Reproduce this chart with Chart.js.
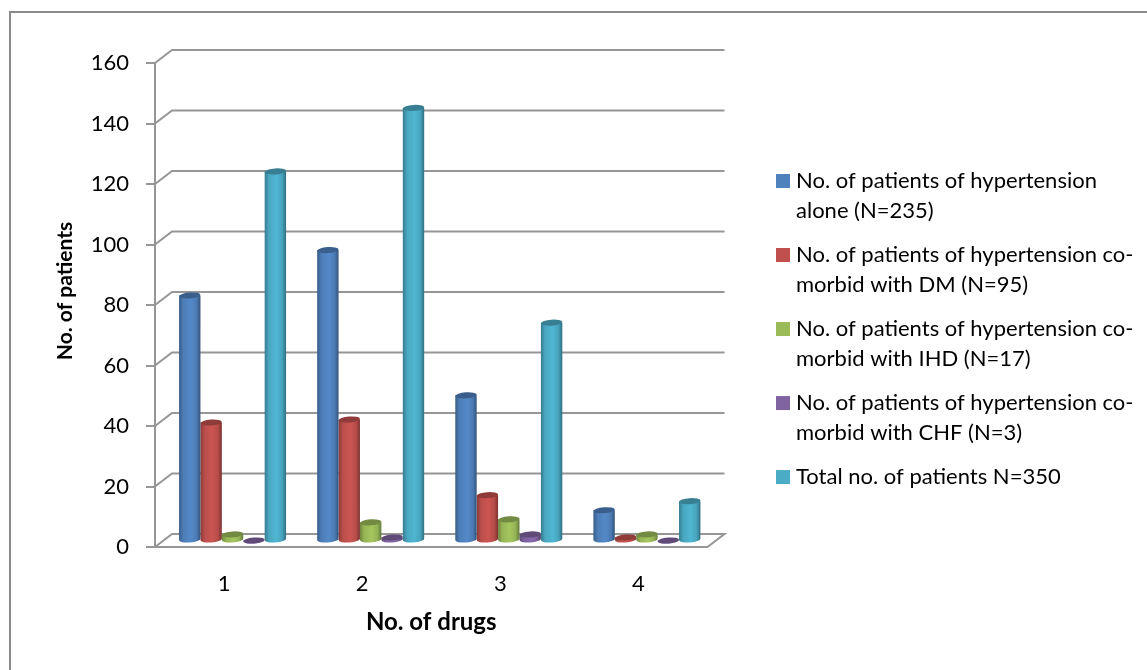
<!DOCTYPE html>
<html>
<head>
<meta charset="utf-8">
<title>No. of drugs</title>
<script src="https://cdn.jsdelivr.net/npm/chart.js@4/dist/chart.umd.js"></script>
<style>
  html, body { margin: 0; padding: 0; background: #fff; overflow: hidden; }
  #frame { position: absolute; left: 9px; top: 11px; right: 0; bottom: 0; border-top: 2px solid #8a8a8a; border-left: 2px solid #8a8a8a; }
  #chart { position: absolute; left: 0; top: 0; }
</style>
</head>
<body>
<div id="frame"></div>
<canvas id="chart" width="1147" height="670"></canvas>
<script>
const categories = ["1", "2", "3", "4"];
const aloneValues = [81, 96, 48, 10];
const dmValues = [39, 40, 15, 1];
const ihdValues = [2, 6, 7, 2];
const chfValues = [0, 1, 2, 0];
const totalValues = [122, 143, 72, 13];
const legendLabels = [
  ["No. of patients of hypertension", "alone (N=235)"],
  ["No. of patients of hypertension co-", "morbid with DM (N=95)"],
  ["No. of patients of hypertension co-", "morbid with IHD (N=17)"],
  ["No. of patients of hypertension co-", "morbid with CHF (N=3)"],
  ["Total no. of patients N=350"]
];
const seriesColors = ["#4f81bd", "#c0504d", "#9bbb59", "#8064a2", "#4bacc6"];

// depth of the fake 3d box, in pixels
const depthX = 17;
const depthY = 13;
const gridColor = "#969696";

function shade(hex, k) {
  const n = parseInt(hex.slice(1), 16);
  const c = [n >> 16, (n >> 8) & 255, n & 255].map((v) => Math.min(255, Math.round(v * k)));
  return `rgb(${c[0]},${c[1]},${c[2]})`;
}

// bar drawn as a cylinder, standing in the middle of the floor
class CylinderElement extends Chart.BarElement {
  draw(ctx) {
    const { x, y, base, width } = this.getProps(["x", "y", "base", "width"]);
    const color = this.options.backgroundColor;
    const cx = x + depthX / 2;
    const rx = width / 2;
    const ry = 3;
    const tilt = -0.07;
    const top = y - depthY / 2;
    const bottom = base - depthY / 2;

    ctx.save();
    const grad = ctx.createLinearGradient(cx - rx, 0, cx + rx, 0);
    grad.addColorStop(0, shade(color, 0.72));
    grad.addColorStop(0.2, shade(color, 0.97));
    grad.addColorStop(0.55, shade(color, 1.06));
    grad.addColorStop(0.82, shade(color, 0.95));
    grad.addColorStop(1, shade(color, 0.64));

    ctx.fillStyle = grad;
    ctx.beginPath();
    ctx.moveTo(cx - rx, top);
    ctx.lineTo(cx - rx, bottom);
    ctx.ellipse(cx, bottom, rx, ry, tilt, Math.PI, 0, true);
    ctx.lineTo(cx + rx, top);
    ctx.closePath();
    ctx.fill();

    ctx.fillStyle = shade(color, 0.74);
    ctx.beginPath();
    ctx.ellipse(cx, top, rx, ry, tilt, 0, Math.PI * 2);
    ctx.fill();
    ctx.restore();
  }
}
CylinderElement.id = "cylinder";
CylinderElement.defaults = Chart.BarElement.defaults;
CylinderElement.defaultRoutes = Chart.BarElement.defaultRoutes;

class CylinderController extends Chart.BarController {}
CylinderController.id = "cylinderBar";
CylinderController.defaults = Object.assign({}, Chart.BarController.defaults, { dataElementType: "cylinder" });
CylinderController.overrides = Chart.BarController.overrides;

Chart.register(CylinderElement, CylinderController);

// back wall and floor, taken from the value axis
const wallPlugin = {
  id: "wall",
  beforeDatasetsDraw(chart) {
    const { ctx, chartArea, scales } = chart;
    const { left, right } = chartArea;
    ctx.save();
    ctx.strokeStyle = gridColor;
    ctx.lineWidth = 2;
    scales.y.ticks.forEach((tick) => {
      const py = scales.y.getPixelForValue(tick.value);
      ctx.beginPath();
      ctx.moveTo(left, py);
      ctx.lineTo(left + depthX, py - depthY);
      ctx.lineTo(right + depthX, py - depthY);
      if (tick.value === 0) ctx.lineTo(right, py);
      ctx.stroke();
    });
    ctx.restore();
  }
};

// legend sits apart from the plot, y title sits a bit above the middle
const placePlugin = {
  id: "place",
  afterLayout(chart) {
    chart.legend.left = 767;
    chart.legend.right = 1147;
    chart.legend.top = 156;
    const yScale = chart.scales.y;
    const drawTitle = yScale.drawTitle;
    yScale.drawTitle = function () {
      this.ctx.save();
      this.ctx.translate(0, -14);
      drawTitle.call(this);
      this.ctx.restore();
    };
  }
};

new Chart(document.getElementById("chart"), {
  type: "cylinderBar",
  data: {
    labels: categories,
    datasets: [
      { label: legendLabels[0], data: aloneValues, backgroundColor: seriesColors[0] },
      { label: legendLabels[1], data: dmValues, backgroundColor: seriesColors[1] },
      { label: legendLabels[2], data: ihdValues, backgroundColor: seriesColors[2] },
      { label: legendLabels[3], data: chfValues, backgroundColor: seriesColors[3] },
      { label: legendLabels[4], data: totalValues, backgroundColor: seriesColors[4] }
    ]
  },
  plugins: [wallPlugin, placePlugin],
  options: {
    responsive: false,
    animation: false,
    layout: { padding: { left: 0, top: 63, right: 63, bottom: 0 } },
    datasets: { cylinderBar: { categoryPercentage: 0.775, barPercentage: 1 } },
    plugins: {
      tooltip: { enabled: false },
      legend: {
        position: "right",
        align: "start",
        maxWidth: 440,
        labels: {
          boxWidth: 4,
          boxHeight: 4,
          padding: 14,
          color: "#000",
          font: { family: "Lato", size: 22, lineHeight: 1.364 },
          generateLabels(chart) {
            return chart.data.datasets.map((ds, i) => ({
              text: ds.label,
              fillStyle: ds.backgroundColor,
              strokeStyle: ds.backgroundColor,
              lineWidth: 10,
              datasetIndex: i
            }));
          }
        }
      }
    },
    scales: {
      x: {
        afterFit(scale) { scale.height = 123; },
        grid: { display: false, drawTicks: false },
        border: { color: gridColor, width: 2 },
        ticks: { color: "#000", padding: 24, font: { family: "Lato", size: 22 }, maxRotation: 0 },
        title: {
          display: true,
          text: "No. of drugs",
          color: "#000",
          font: { family: "Lato", size: 24, weight: "bold" },
          padding: { top: 0, bottom: 33 }
        }
      },
      y: {
        min: 0,
        max: 160,
        afterFit(scale) { scale.width = 155; },
        grid: { drawOnChartArea: false, color: gridColor, lineWidth: 2, tickLength: 9 },
        border: { color: gridColor, width: 2 },
        ticks: { stepSize: 20, color: "#000", padding: 17, font: { family: "Lato", size: 22 } },
        title: {
          display: true,
          text: "No. of patients",
          color: "#000",
          font: { family: "Lato", size: 21, weight: "bold" },
          padding: { top: 53, bottom: 0 }
        }
      }
    }
  }
});
</script>
</body>
</html>
